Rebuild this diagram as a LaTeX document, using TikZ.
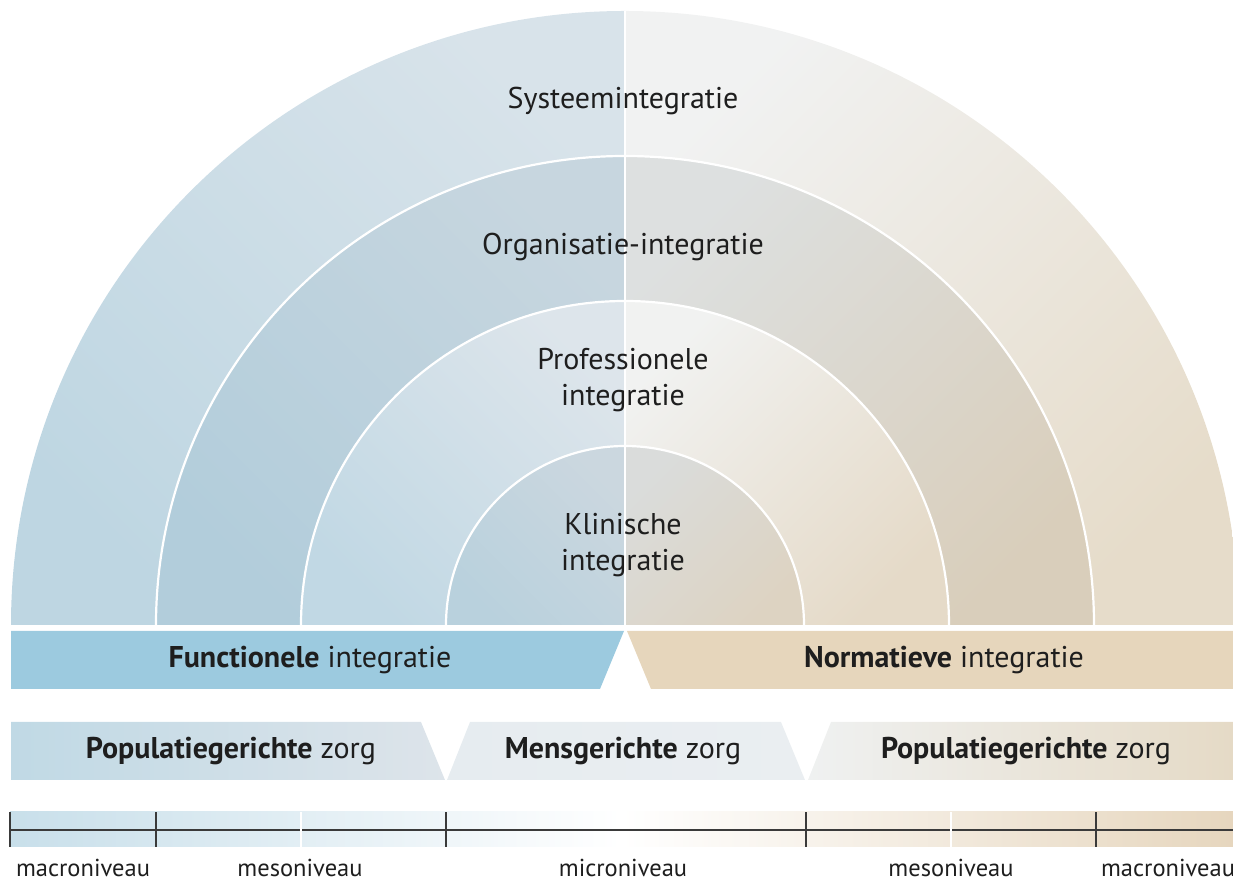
\documentclass[tikz,border=0pt]{standalone}
\usepackage{fontspec}
\usetikzlibrary{calc}
\setmainfont{PT Sans}
\definecolor{txt}{HTML}{1E1E1E}
\definecolor{funcblue}{HTML}{9CCADF}
\definecolor{normbeige}{HTML}{E6D6BC}
\definecolor{tick}{HTML}{3A3A3A}
\begin{document}
\begin{tikzpicture}[x=1pt,y=1pt,
  lbl/.style={text=txt,font=\fontsize{30}{36}\selectfont,align=center,inner sep=0pt},
  barlbl/.style={text=txt,font=\fontsize{30}{32}\selectfont,inner sep=0pt},
  lvl/.style={text=txt,font=\fontsize{24.5}{26}\selectfont,inner sep=0pt,anchor=base},
  sep/.style={white,line width=2.2pt},
  tickline/.style={tick,line width=1.1pt}]
\useasboundingbox (0,0) rectangle (1233,880);
\clip (0,0) rectangle (1233,880);
\coordinate (O) at (625,255);

% half rings: radius / left colours / right colours
\foreach \r/\la/\lb/\ra/\rb in {
  614/BED6E2/D8E3EA/F1F2F2/E6DCCA,
  469/B2CDDB/C7D6DF/DDE0E0/D9CEBB,
  324/C1D8E4/DDE5EB/F1F2F1/E5DAC8,
  179/B9D1DD/CBD7DF/DADCDB/DDD3C2}{
  \definecolor{ca}{HTML}{\la}\definecolor{cb}{HTML}{\lb}
  \definecolor{cc}{HTML}{\ra}\definecolor{cd}{HTML}{\rb}
  \shade[bottom color=ca,top color=cb,shading angle=-45]
    (O) -- ++(-\r,0) arc[start angle=180,end angle=90,radius=\r] -- cycle;
  \shade[bottom color=cd,top color=cc,shading angle=45]
    (O) -- ++(0,\r) arc[start angle=90,end angle=0,radius=\r] -- cycle;
}
\foreach \r in {469,324,179}
  \draw[sep] ($(O)+(-\r,0)$) arc[start angle=180,end angle=0,radius=\r];
\draw[white,line width=1.2pt] (O) -- ++(0,614);

% ring labels
\node[lbl] (sys) at (623,779) {Systeemintegratie};
\node[lbl] (org) at (623,633) {Organisatie-integratie};
\node[lbl] (prof) at (623,500) {Professionele\\integratie};
\node[lbl] (klin) at (623,335) {Klinische\\integratie};

% integration bars
\fill[funcblue] (11,249) -- (624,249) -- (600,191) -- (11,191) -- cycle;
\fill[normbeige] (627,249) -- (1233,249) -- (1233,191) -- (651,191) -- cycle;
\node[barlbl] (func) at (310,220) {\textbf{Functionele} integratie};
\node[barlbl] (norm) at (944,220) {\textbf{Normatieve} integratie};

% care bars
\definecolor{pa}{HTML}{C0D9E5}\definecolor{pb}{HTML}{DDE4EA}
\definecolor{ma}{HTML}{E6ECF0}\definecolor{mb}{HTML}{EAEEF1}
\definecolor{qa}{HTML}{EFF1F1}\definecolor{qb}{HTML}{E5DAC6}
\shade[left color=pa,right color=pb] (11,158) -- (421,158) -- (445,100) -- (11,100) -- cycle;
\shade[left color=ma,right color=mb] (470,158) -- (781,158) -- (805,100) -- (447,100) -- cycle;
\shade[left color=qa,right color=qb] (831,158) -- (1233,158) -- (1233,100) -- (808,100) -- cycle;
\node[barlbl] (popl) at (231,129) {\textbf{Populatiegerichte} zorg};
\node[barlbl] (mens) at (623,129) {\textbf{Mensgerichte} zorg};
\node[barlbl] (popr) at (1026,129) {\textbf{Populatiegerichte} zorg};

% level scale
\definecolor{sa}{HTML}{C8DFEA}\definecolor{sb}{HTML}{E6D6BE}
\shade[left color=sa,right color=sb,middle color=white] (10,33) rectangle (1233,68);
\draw[tickline] (10,50) -- (1233,50);
\foreach \x in {10,156,446,806,1096}
  \draw[tickline] (\x,33) -- (\x,68);
\foreach \x in {301,951}
  \draw[white,line width=1.5pt] (\x,33) -- (\x,68);
\node[lvl] (ma1) at (83,3) {macroniveau};
\node[lvl] (me1) at (300,3) {mesoniveau};
\node[lvl] (mi) at (623,3) {microniveau};
\node[lvl] (me2) at (951,3) {mesoniveau};
\node[lvl] (ma2) at (1168,3) {macroniveau};
\end{tikzpicture}
\end{document}
